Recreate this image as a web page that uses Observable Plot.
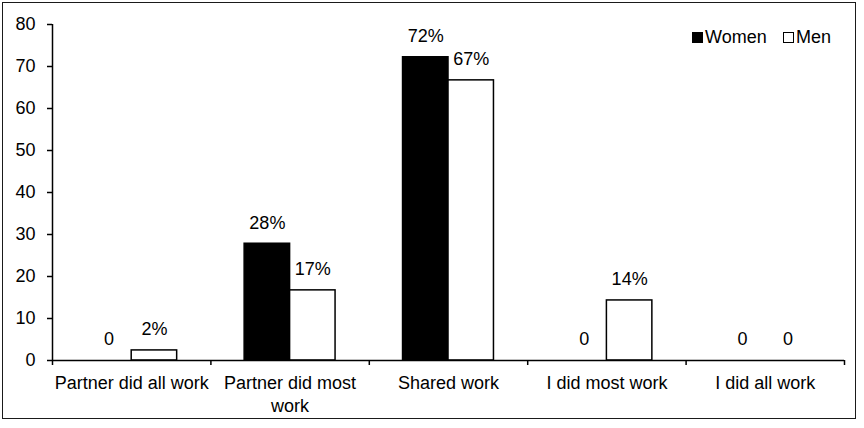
<!DOCTYPE html>
<html>
<head>
<meta charset="utf-8">
<script src="https://cdn.jsdelivr.net/npm/d3@7"></script>
<script src="https://cdn.jsdelivr.net/npm/@observablehq/plot@0.6"></script>
<style>
  html, body { margin: 0; padding: 0; background: #fff; }
  body { width: 864px; height: 428px; overflow: hidden; position: relative; font-family: "Liberation Sans", Arial, sans-serif; }
  #frame { position: absolute; left: 2px; top: 2px; width: 854px; height: 417px; border: 1.5px solid #1a1a1a; box-sizing: border-box; pointer-events: none; }
  #chart { position: absolute; left: 0; top: 0; }
  .legend { position: absolute; top: 27px; font-size: 18px; color: #000; display: flex; align-items: center; line-height: 20px; }
  .sw { width: 9px; height: 9px; border: 1.5px solid #000; margin-right: 2px; box-sizing: content-box; }
</style>
</head>
<body>
<div id="chart"></div>
<div id="frame"></div>
<div class="legend" style="left:692px"><span class="sw" style="background:#000"></span>Women</div>
<div class="legend" style="left:783px"><span class="sw" style="background:#fff"></span>Men</div>
<script>
const categories = ["Partner did all work", "Partner did most work", "Shared work", "I did most work", "I did all work"];
const women = [0, 27.8, 72.2, 0, 0];
const men = [2.4, 16.7, 66.7, 14.3, 0];
const yTicks = [0, 10, 20, 30, 40, 50, 60, 70, 80];

const barW = 0.287; // fraction of a category step
const rows = [];
categories.forEach((c, i) => {
  rows.push({cat: c, i, sex: "Women", value: women[i], x1: i + 0.5 - barW, x2: i + 0.5});
  rows.push({cat: c, i, sex: "Men", value: men[i], x1: i + 0.5, x2: i + 0.5 + barW});
});
const label = v => v === 0 ? "0" : Math.round(v) + "%";
// wrap long category names at the last space (as the original chart does)
const wrap = s => s.length > 20 ? s.slice(0, s.lastIndexOf(" ")) + "\n" + s.slice(s.lastIndexOf(" ") + 1) : s;

const chart = Plot.plot({
  width: 864,
  height: 428,
  marginLeft: 52,
  marginRight: 20,
  marginTop: 24,
  marginBottom: 68,
  style: {fontFamily: "'Liberation Sans', Arial, sans-serif", fontSize: "18px", color: "#000", background: "transparent"},
  x: {type: "linear", domain: [0, categories.length], axis: null},
  y: {domain: [0, 80], axis: null},
  marks: [
    Plot.rectY(rows, {x1: "x1", x2: "x2", y1: 0, y2: "value",
      fill: d => d.sex === "Women" ? "#000" : "#fff",
      stroke: "#000", strokeWidth: 1.5}),
    Plot.text(rows, {x: d => (d.x1 + d.x2) / 2, y: "value", text: d => label(d.value),
      dy: -21, lineAnchor: "middle", fontSize: 18, fill: "#000"}),
    Plot.ruleX([0], {stroke: "#000", strokeWidth: 1.5}),
    Plot.ruleY([0], {stroke: "#000", strokeWidth: 1.5}),
    Plot.axisY({ticks: yTicks, tickSize: 5, tickPadding: 12, stroke: "#000", strokeWidth: 1.5, strokeOpacity: 1, fontSize: 18, fill: "#000", label: null}),
    Plot.axisX({ticks: d3.range(categories.length + 1), tickSize: 5, tickFormat: () => "", stroke: "#000", strokeWidth: 1.5, strokeOpacity: 1, label: null}),
    Plot.axisX({ticks: categories.map((c, i) => i + 0.5), tickSize: 0, tickPadding: 13,
      tickFormat: v => wrap(categories[Math.round(v - 0.5)]), lineHeight: 1.25,
      fontSize: 18, fill: "#000", label: null})
  ]
});
document.getElementById("chart").appendChild(chart);
</script>
</body>
</html>
